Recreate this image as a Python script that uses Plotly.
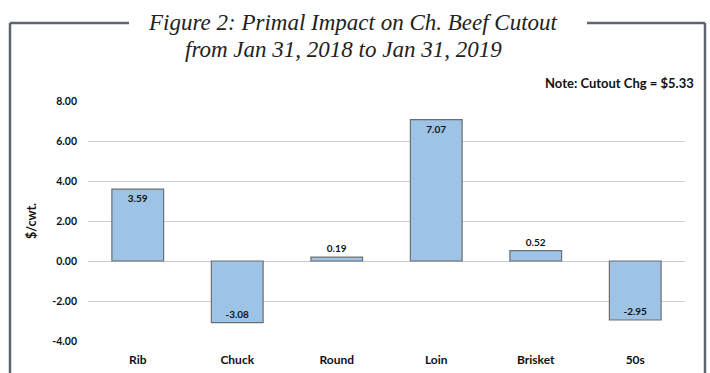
import plotly.graph_objects as go

categories = ["Rib", "Chuck", "Round", "Loin", "Brisket", "50s"]
values = [3.59, -3.08, 0.19, 7.07, 0.52, -2.95]
label_pos = ["inside", "inside", "outside", "inside", "outside", "inside"]
y_ticks = [-4, -2, 0, 2, 4, 6, 8]
y_ticktext = [f"{v:.2f}" for v in y_ticks]
title_lines = ["Figure 2: Primal Impact on Ch. Beef Cutout", "from Jan 31, 2018 to Jan 31, 2019"]
note_text = "Note: Cutout Chg = $5.33"

W, H = 710, 373
L, R, T, B = 88, 25, 101, 32
pw, ph = W - L - R, H - T - B

def px(x):
    return (x - L) / pw

def py(y):
    return (H - B - y) / ph

fig = go.Figure(go.Bar(
    x=categories, y=values,
    text=[f"{v:.2f}" for v in values],
    textposition=label_pos,
    insidetextanchor="end",
    constraintext="none",
    textfont=dict(family="Lato", size=10, color="#111111", weight="bold"),
    marker=dict(color="#9dc3e6", line=dict(color="#6e6e6e", width=1.2)),
    width=0.52,
    cliponaxis=False,
))

frame = dict(color="#5b6670", width=2.5)
shapes = [
    dict(type="line", xref="paper", yref="paper", x0=px(10), x1=px(10), y0=py(23), y1=py(380), line=frame),
    dict(type="line", xref="paper", yref="paper", x0=px(10), x1=px(129), y0=py(23), y1=py(23), line=frame),
    dict(type="line", xref="paper", yref="paper", x0=px(587), x1=px(705), y0=py(23), y1=py(23), line=frame),
    dict(type="line", xref="paper", yref="paper", x0=px(705), x1=px(705), y0=py(23), y1=py(380), line=frame),
]

title_font = dict(family="Liberation Serif", size=23, color="#222222", style="italic")
annotations = [
    dict(text=title_lines[0], xref="paper", yref="paper", x=px(353), y=py(22),
         xanchor="center", yanchor="middle", showarrow=False, font=title_font),
    dict(text=title_lines[1], xref="paper", yref="paper", x=px(343), y=py(49),
         xanchor="center", yanchor="middle", showarrow=False, font=title_font),
    dict(text=note_text, xref="paper", yref="paper", x=px(696), y=py(83),
         xanchor="right", yanchor="middle", showarrow=False,
         font=dict(family="Lato", size=13, color="#111111", weight="bold")),
]

fig.update_layout(
    width=W, height=H,
    margin=dict(l=L, r=R, t=T, b=B),
    paper_bgcolor="white", plot_bgcolor="white",
    showlegend=False,
    shapes=shapes,
    annotations=annotations,
    xaxis=dict(showgrid=False, showline=False, zeroline=False, ticks="",
               automargin=False,
               tickfont=dict(family="Lato", size=12, color="#111111", weight="bold"),
               ticklabelstandoff=10),
    yaxis=dict(range=[-4, 8], tickvals=y_ticks, ticktext=y_ticktext,
               automargin=False,
               showgrid=True, gridcolor="#d0d0d0", gridwidth=1,
               zeroline=True, zerolinecolor="#c8c8c8", zerolinewidth=1,
               showline=False, ticks="",
               tickfont=dict(family="Lato", size=10.5, color="#111111", weight="bold"),
               ticklabelstandoff=10,
               title=dict(text="$/cwt.", standoff=12,
                          font=dict(family="Lato", size=12.5, color="#111111", weight="bold"))),
)

fig.write_html("out.html")
